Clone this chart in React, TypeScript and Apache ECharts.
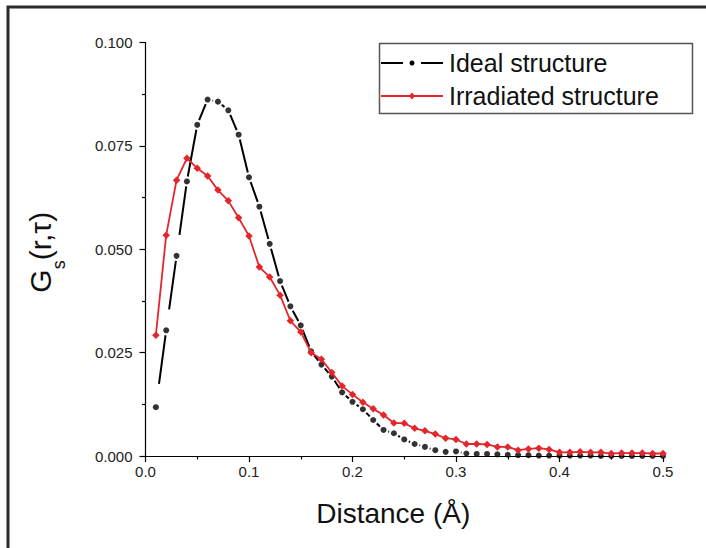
import React, { useEffect, useRef } from "react";
import * as echarts from "echarts";

const distance = [
  0.01, 0.02, 0.03, 0.04, 0.05, 0.06, 0.07, 0.08, 0.09, 0.10,
  0.11, 0.12, 0.13, 0.14, 0.15, 0.16, 0.17, 0.18, 0.19, 0.20,
  0.21, 0.22, 0.23, 0.24, 0.25, 0.26, 0.27, 0.28, 0.29, 0.30,
  0.31, 0.32, 0.33, 0.34, 0.35, 0.36, 0.37, 0.38, 0.39, 0.40,
  0.41, 0.42, 0.43, 0.44, 0.45, 0.46, 0.47, 0.48, 0.49, 0.50,
];

const idealStructure = [
  0.0118, 0.0304, 0.0484, 0.0664, 0.0801, 0.0862, 0.0857, 0.0836, 0.0777, 0.0674,
  0.0603, 0.0513, 0.0423, 0.0362, 0.0316, 0.0253, 0.0221, 0.0192, 0.0154, 0.0131,
  0.0113, 0.0087, 0.0063, 0.0055, 0.0040, 0.0029, 0.0022, 0.0014, 0.0010, 0.0011,
  0.0006, 0.0005, 0.0005, 0.0004, 0.0003, 0.0002, 0.0002, 0.0001, 0.0001, 0.0001,
  0.0001, 0.0001, 0.0001, 0.0000, 0.0000, 0.0000, 0.0000, 0.0000, 0.0000, 0.0000,
];

const irradiatedStructure = [
  0.0292, 0.0534, 0.0667, 0.0720, 0.0696, 0.0677, 0.0643, 0.0617, 0.0576, 0.0532,
  0.0457, 0.0433, 0.0389, 0.0327, 0.0300, 0.0250, 0.0234, 0.0202, 0.0169, 0.0149,
  0.0130, 0.0114, 0.0099, 0.0080, 0.0079, 0.0067, 0.0061, 0.0053, 0.0043, 0.0040,
  0.0029, 0.0029, 0.0028, 0.0022, 0.0022, 0.0014, 0.0017, 0.0019, 0.0016, 0.0009,
  0.0009, 0.0010, 0.0009, 0.0009, 0.0006, 0.0007, 0.0007, 0.0007, 0.0006, 0.0006,
];

const seriesNames = ["Ideal structure", "Irradiated structure"];
const xAxisTitle = "Distance (Å)";

const FONT = '"Liberation Sans", Arial, Helvetica, sans-serif';
const RED = "#e3262b";

export default function App() {
  const ref = useRef<HTMLDivElement>(null);

  useEffect(() => {
    if (!ref.current) return;
    const chart = echarts.init(ref.current, undefined, { renderer: "svg" });

    const idealPoints = distance.map((x, i) => [x, idealStructure[i]]);
    const irradiatedPoints = distance.map((x, i) => [x, irradiatedStructure[i]]);
    const idealSegments = distance
      .slice(0, -1)
      .map((x, i) => [x, idealStructure[i], distance[i + 1], idealStructure[i + 1]]);

    const option: any = {
      animation: false,
      backgroundColor: "#ffffff",
      grid: { left: 145.5, right: 43, top: 42.5, bottom: 92, containLabel: false },
      xAxis: {
        type: "value",
        min: 0,
        max: 0.5,
        interval: 0.1,
        name: xAxisTitle,
        nameLocation: "middle",
        nameGap: 43,
        nameTextStyle: {
          fontFamily: FONT,
          fontSize: 28,
          color: "#111",
          padding: [0, 22, 0, 0],
        },
        axisLine: { show: true, lineStyle: { color: "#000", width: 1.2 } },
        axisTick: { show: true, length: 6, lineStyle: { color: "#000", width: 1.2 } },
        minorTick: { show: true, splitNumber: 2, length: 3.5, lineStyle: { color: "#000", width: 1.2 } },
        axisLabel: {
          fontFamily: FONT,
          fontSize: 15,
          color: "#222",
          margin: 8,
          formatter: (v: number) => v.toFixed(1),
        },
        splitLine: { show: false },
      },
      yAxis: {
        type: "value",
        min: 0,
        max: 0.1,
        interval: 0.025,
        name: "{g|G}{s|s}{g|(r,τ)}",
        nameLocation: "middle",
        nameRotate: 90,
        nameGap: 78,
        nameTextStyle: {
          fontFamily: FONT,
          color: "#111",
          padding: [0, 6, 0, 0],
          rich: {
            g: { fontFamily: FONT, fontSize: 30, color: "#111" },
            s: { fontFamily: FONT, fontSize: 18, color: "#111", padding: [36, 0, 0, 0] },
          },
        },
        axisLine: { show: true, lineStyle: { color: "#000", width: 1.2 } },
        axisTick: { show: true, length: 6, lineStyle: { color: "#000", width: 1.2 } },
        minorTick: { show: true, splitNumber: 2, length: 3.5, lineStyle: { color: "#000", width: 1.2 } },
        axisLabel: {
          fontFamily: FONT,
          fontSize: 15,
          color: "#222",
          margin: 13,
          formatter: (v: number) => v.toFixed(3),
        },
        splitLine: { show: false },
      },
      series: [
        {
          name: seriesNames[0] + " line",
          type: "custom",
          data: idealSegments,
          encode: { x: [0, 2], y: [1, 3] },
          z: 2,
          renderItem: (params: any, api: any) => {
            const p1 = api.coord([api.value(0), api.value(1)]);
            const p2 = api.coord([api.value(2), api.value(3)]);
            const dx = p2[0] - p1[0];
            const dy = p2[1] - p1[1];
            const len = Math.hypot(dx, dy);
            const gEnd = 5;
            const gStart = Math.max(5, len - 54);
            if (len - gEnd - gStart <= 0.5) return { type: "group", children: [] };
            const ux = dx / len;
            const uy = dy / len;
            return {
              type: "line",
              shape: {
                x1: p1[0] + ux * gStart,
                y1: p1[1] + uy * gStart,
                x2: p2[0] - ux * gEnd,
                y2: p2[1] - uy * gEnd,
              },
              style: { stroke: "#000", lineWidth: 2 },
            };
          },
        },
        {
          name: seriesNames[0],
          type: "scatter",
          data: idealPoints,
          symbol: "circle",
          symbolSize: 6,
          itemStyle: { color: "#000" },
          z: 3,
        },
        {
          name: seriesNames[1],
          type: "line",
          data: irradiatedPoints,
          symbol: "diamond",
          symbolSize: 7.5,
          showAllSymbol: true,
          lineStyle: { color: RED, width: 1.8 },
          itemStyle: { color: RED },
          z: 4,
        },
      ],
      graphic: [
        {
          type: "rect",
          shape: { x: 8, y: 7, width: 800, height: 700 },
          style: { fill: "none", stroke: "#2b2b2b", lineWidth: 3 },
          silent: true,
        },
        {
          type: "group",
          silent: true,
          children: [
            {
              type: "rect",
              shape: { x: 379.5, y: 43.5, width: 313, height: 70 },
              style: { fill: "#fff", stroke: "#555", lineWidth: 1.5 },
            },
            { type: "line", shape: { x1: 381, y1: 63, x2: 403, y2: 63 }, style: { stroke: "#000", lineWidth: 2 } },
            { type: "circle", shape: { cx: 412, cy: 63, r: 2.5 }, style: { fill: "#000" } },
            { type: "line", shape: { x1: 421, y1: 63, x2: 443, y2: 63 }, style: { stroke: "#000", lineWidth: 2 } },
            {
              type: "text",
              x: 449,
              y: 63,
              style: {
                text: seriesNames[0],
                fontFamily: FONT,
                fontSize: 25,
                fill: "#111",
                verticalAlign: "middle",
                align: "left",
              },
            },
            { type: "line", shape: { x1: 381, y1: 96, x2: 443, y2: 96 }, style: { stroke: RED, lineWidth: 1.8 } },
            {
              type: "polygon",
              shape: { points: [[412, 92.5], [415, 96], [412, 99.5], [409, 96]] },
              style: { fill: RED },
            },
            {
              type: "text",
              x: 449,
              y: 96,
              style: {
                text: seriesNames[1],
                fontFamily: FONT,
                fontSize: 25,
                fill: "#111",
                verticalAlign: "middle",
                align: "left",
              },
            },
          ],
        },
      ],
    };

    chart.setOption(option);
    return () => chart.dispose();
  }, []);

  return (
    <div
      ref={ref}
      style={{ position: "fixed", left: 0, top: 0, width: 706, height: 548, background: "#fff" }}
    />
  );
}
